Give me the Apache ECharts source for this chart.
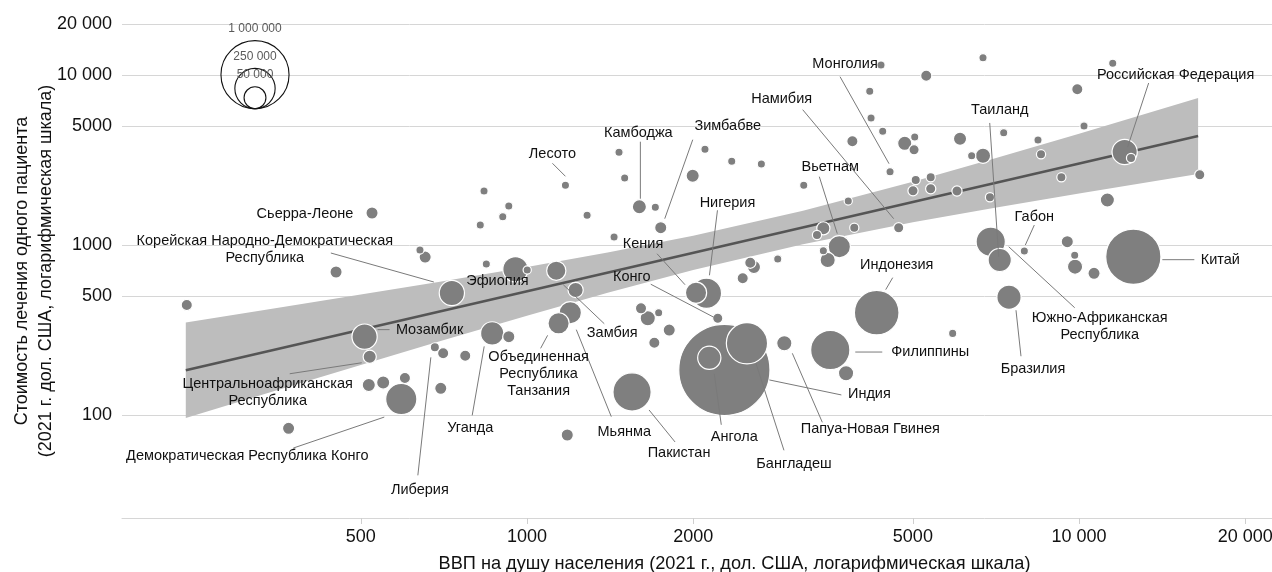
<!DOCTYPE html>
<html><head><meta charset="utf-8">
<script src="https://cdn.jsdelivr.net/npm/echarts@6/dist/echarts.min.js"></script>
<style>html,body{margin:0;padding:0;background:#fff}#c{width:1272px;height:572px}</style>
</head><body><div id="c"></div>
<script>
// ---------------- data ----------------
const countries = [
 '', 'Сьерра-Леоне', '', '', '', 'Корейская Народно-Демократическая Республика', '', '', '', '',
 '', 'Эфиопия', '', 'Замбия', '', 'Мьянма', 'Объединенная Республика Танзания', 'Мозамбик', 'Центральноафриканская Республика', 'Либерия',
 '', '', 'Уганда', '', '', '', '', '', 'Демократическая Республика Конго', '',
 '', 'Пакистан', 'Лесото', '', '', '', '', 'Камбоджа', '', 'Зимбабве',
 '', '', '', '', '', '', '', '', '', '',
 'Кения', 'Нигерия', 'Конго', '', '', '', '', '', 'Индия', 'Ангола',
 'Бангладеш', 'Папуа-Новая Гвинея', 'Филиппины', '', 'Индонезия', '', 'Вьетнам', '', '', '',
 'Намибия', '', '', 'Монголия', '', '', '', '', '', '',
 '', '', '', '', '', '', '', '', '', '',
 '', '', '', '', '', '', '', 'Российская Федерация', '', '',
 '', '', 'Южно-Африканская Республика', 'Таиланд', 'Габон', '', '', '', '', 'Китай',
 'Бразилия', '', ''
];
const gdpPerCapita = [
 242, 524, 451, 640, 654, 731, 836, 927, 904, 823,
 844, 953, 1001, 1130, 1225, 1198, 1141, 508, 519, 681,
 705, 773, 865, 927, 517, 549, 601, 698, 592, 370,
 1183, 1550, 1174, 1285, 1438, 1468, 1503, 1598, 1708, 1747,
 1996, 2101, 2349, 2658, 3172, 3819, 2846, 2538, 2577, 2459,
 2024, 2114, 2216, 1609, 1655, 1732, 1810, 1701, 2278, 2139,
 2503, 2925, 3543, 3784, 4300, 5903, 3679, 3442, 3352, 3916,
 4713, 3442, 3505, 4546, 4378, 5287, 4177, 4200, 4409, 3885,
 4833, 5039, 5025, 5060, 5386, 5003, 5386, 6699, 11508, 9927,
 10209, 7303, 6087, 8426, 6390, 6699, 8533, 12094, 12420, 9289,
 16544, 11253, 6918, 7183, 7959, 9521, 9820, 9834, 10644, 12540,
 7466, 6010, 6897
];
const costPerPatient = [
 444, 1544, 694, 935, 850, 522, 2080, 1697, 1468, 1312,
 773, 720, 713, 706, 544, 400, 346, 289, 220, 250,
 231, 223, 302, 289, 150, 155, 165, 143.5, 124, 83.4,
 76.2, 136.5, 2247, 1496, 1115, 3515, 2481, 1681, 1668, 1265,
 2559, 3660, 3112, 2999, 2247, 1816, 828, 787, 743, 637,
 524, 520, 371, 424, 371, 400, 316, 266, 184, 217,
 264, 264, 241, 176, 400, 302, 978, 1254, 1146, 1265,
 1265, 926, 817, 2702, 11473, 9924, 8033, 5594, 4673, 4080,
 3971, 4324, 3640, 2414, 2504, 2088, 2145, 12665, 11740, 8254,
 5020, 4583, 4226, 4151, 3356, 3356, 3420, 3528, 3253, 2504,
 2594, 1841, 1046, 817, 922, 1046, 870, 746, 682, 854,
 493, 2080, 1910
];
const patientsTreated = [
 6300, 8100, 8100, 2500, 8100, 64000, 2500, 2500, 2500, 2500,
 2500, 64000, 2500, 30000, 15400, 45000, 39400, 64000, 10200, 3500,
 6300, 6300, 50800, 8100, 10200, 10200, 6300, 8100, 115000, 8100,
 8100, 200000, 2500, 2500, 2500, 2500, 2500, 12600, 2500, 8100,
 10200, 2500, 2500, 2500, 2500, 2500, 2500, 6300, 10200, 6300,
 39400, 105000, 4800, 6300, 15400, 2500, 8100, 6300, 2090000, 50800,
 246000, 15400, 215000, 15400, 305000, 2500, 45000, 10200, 3500, 3500,
 4800, 2500, 15400, 2500, 2500, 6300, 2500, 2500, 2500, 6300,
 12600, 2500, 4800, 3500, 3500, 4800, 4800, 2500, 2500, 6300,
 2500, 2500, 10200, 2500, 2500, 15400, 3500, 64000, 3500, 3500,
 4800, 12600, 96000, 50800, 2500, 8100, 2500, 15400, 8100, 543000,
 57200, 4800, 3500
];
// regression line and its confidence band
const trendGdp  = [241, 16430];
const trendCost = [183, 4385];
const bandGdp   = [241, 350, 500, 700, 1000, 1400, 2000, 3162, 5000, 7000, 10000, 16430];
const bandUpper = [350, 424, 511, 611, 743, 904, 1134, 1592, 2360, 3220, 4526, 7341];
const bandLower = [96, 139, 197, 273, 384, 523, 713, 1012, 1361, 1654, 2013, 2619];
// ticks
const xTicks = [500, 1000, 2000, 5000, 10000, 20000];
const yTicks = [100, 500, 1000, 5000, 10000, 20000];
const sizeKey = [1000000, 250000, 50000];

// ---------------- styling / layout ----------------
const FONT = '"Liberation Sans", Arial, Helvetica, sans-serif';
const BORDER = 1.2;
function radius(v) { return 0.1819 * Math.pow(v, 0.3787); }
function fmt(v) {
  v = Math.round(v);
  return v >= 10000 ? String(v).replace(/\B(?=(\d{3})+(?!\d))/g, ' ') : String(v);
}
function fmtAll(v) { return String(Math.round(v)).replace(/\B(?=(\d{3})+(?!\d))/g, ' '); }
// label offsets (pixels relative to the bubble centre): t = text centre, l = leader line
const annot = {
 'Российская Федерация': {t:[51,-77], l:[24,-69,3,-5]},
 'Таиланд': {t:[0,-150], l:[-10,-137,-1,-3]},
 'Габон': {t:[10,-34], l:[10,-26,1,-6]},
 'Китай': {t:[87,3], l:[29,3,61,3]},
 'Южно-Африканская Республика': {t:[109,85], l:[18,5,84,66], text:'Южно-Африканская\nРеспублика'},
 'Бразилия': {t:[24,72], l:[7,13,12,59]},
 'Индонезия': {t:[20,-48], l:[16,-35,9,-23]},
 'Филиппины': {t:[100,2], l:[25,2,52,2]},
 'Индия': {t:[145,24], l:[45,10,117,25]},
 'Папуа-Новая Гвинея': {t:[86,86], l:[8,10,38,79]},
 'Бангладеш': {t:[47,121], l:[9,20,37,107]},
 'Ангола': {t:[25,79], l:[5,16,12,67]},
 'Пакистан': {t:[47,61], l:[17,18,43,50]},
 'Мьянма': {t:[54,119], l:[6,17,41,104]},
 'Объединенная Республика Танзания': {t:[-20,51], l:[-11,12,-18,25], text:'Объединенная\nРеспублика\nТанзания'},
 'Замбия': {t:[56,62], l:[7,14,48,53]},
 'Конго': {t:[-86,-41], l:[-67,-34,-4,-1]},
 'Кения': {t:[-53,-49], l:[-39,-39,-11,-8]},
 'Нигерия': {t:[21,-90], l:[11,-83,3,-18]},
 'Зимбабве': {t:[67,-102], l:[32,-88,4,-9]},
 'Камбоджа': {t:[-1,-74], l:[1,-65,1,-8]},
 'Лесото': {t:[-13,-31], l:[-13,-22,0,-9]},
 'Монголия': {t:[-45,-108], l:[-50,-95,-1,-8]},
 'Намибия': {t:[-117,-129], l:[-96,-118,-5,-9]},
 'Вьетнам': {t:[-9,-80], l:[-20,-70,-2,-13]},
 'Сьерра-Леоне': {t:[-67,1]},
 'Корейская Народно-Демократическая Республика': {t:[-187,-44], l:[-121,-40,-18,-11], text:'Корейская Народно-Демократическая\nРеспублика'},
 'Эфиопия': {t:[-18,12]},
 'Мозамбик': {t:[65,-7], l:[13,-7,25,-7]},
 'Центральноафриканская Республика': {t:[-102,36], l:[-80,17,-8,6], text:'Центральноафриканская\nРеспублика'},
 'Демократическая Республика Конго': {t:[-154,57], l:[-108,49,-17,18]},
 'Либерия': {t:[-15,143], l:[-4,10,-17,128]},
 'Уганда': {t:[-22,95], l:[-8,13,-20,82]}
};

// ---------------- build ----------------
const points = countries.map((n, i) => ({ name: n, value: [gdpPerCapita[i], costPerPatient[i], patientsTreated[i]] }))
  .sort((a, b) => b.value[2] - a.value[2]);
const labelled = [];
countries.forEach((n, i) => { if (n && annot[n]) labelled.push([gdpPerCapita[i], costPerPatient[i], i]); });

// size key (legend) graphic
const keyCx = 255, keyBottom = 108.7;
const keyGraphic = [];
sizeKey.forEach(v => {
  const r = radius(v);
  keyGraphic.push({ type: 'circle', shape: { cx: keyCx, cy: keyBottom - r, r: r },
    style: { fill: 'none', stroke: '#111', lineWidth: 1.1 }, z: 100 });
});
sizeKey.forEach(v => {
  const r = radius(v);
  keyGraphic.push({ type: 'text', x: keyCx, y: keyBottom - 2 * r - 12,
    style: { text: fmtAll(v), fill: '#5a5a5a', fontSize: 12, fontFamily: FONT, align: 'center', verticalAlign: 'middle' }, z: 101 });
});

const chart = echarts.init(document.getElementById('c'), null, { renderer: 'canvas' });
chart.setOption({
  animation: false,
  backgroundColor: '#ffffff',
  grid: { left: 122, right: 0, top: 24, bottom: 54, containLabel: false, outerBoundsMode: 'none' },
  xAxis: {
    type: 'log', logBase: 10, min: 184.7, max: 22360,
    axisLine: { show: true, lineStyle: { color: '#d6d6d6', width: 1 } },
    axisTick: { show: true, customValues: xTicks, length: 6, lineStyle: { color: '#cfcfcf' } },
    axisLabel: { customValues: xTicks, formatter: fmt, fontSize: 18, color: '#111', fontFamily: FONT, margin: 10 },
    splitLine: { show: false }, minorTick: { show: false }, minorSplitLine: { show: false },
    name: 'ВВП на душу населения (2021 г., дол. США, логарифмическая шкала)',
    nameLocation: 'middle', nameGap: 37, nameMoveOverlap: false,
    nameTextStyle: { fontSize: 18.2, color: '#111', fontFamily: FONT, padding: [0, 0, 0, 75] }
  },
  yAxis: {
    type: 'log', logBase: 10, min: 24.74, max: 20000,
    axisLine: { show: false },
    axisTick: { show: false, customValues: yTicks },
    axisLabel: { customValues: yTicks, formatter: fmt, fontSize: 18, color: '#111', fontFamily: FONT, margin: 10 },
    splitLine: { show: true, lineStyle: { color: '#d6d6d6', width: 1 } },
    minorTick: { show: false }, minorSplitLine: { show: false },
    name: 'Стоимость лечения одного пациента\n(2021 г. дол. США, логарифмическая шкала)',
    nameLocation: 'middle', nameGap: 64, nameRotate: 90, nameMoveOverlap: false,
    nameTextStyle: { fontSize: 18, lineHeight: 24, color: '#111', fontFamily: FONT }
  },
  graphic: keyGraphic,
  series: [
    {
      type: 'custom', name: 'band', silent: true, z: 1,
      data: [[1000, 1000]],
      renderItem: function (params, api) {
        const pts = [];
        for (let i = 0; i < bandGdp.length; i++) pts.push(api.coord([bandGdp[i], bandUpper[i]]));
        for (let i = bandGdp.length - 1; i >= 0; i--) pts.push(api.coord([bandGdp[i], bandLower[i]]));
        return { type: 'polygon', shape: { points: pts }, style: { fill: '#bdbdbd' } };
      }
    },
    {
      type: 'line', name: 'trend', silent: true, z: 2,
      data: trendGdp.map((g, i) => [g, trendCost[i]]),
      symbol: 'none', showSymbol: false,
      lineStyle: { color: '#555555', width: 2.6 }
    },
    {
      type: 'scatter', name: 'countries', z: 3, clip: false,
      data: points,
      symbolSize: function (val) { return 2 * radius(val[2]) + BORDER; },
      itemStyle: { color: '#7f7f7f', borderColor: '#ffffff', borderWidth: BORDER, opacity: 1 },
      emphasis: { disabled: true }
    },
    {
      type: 'custom', name: 'labels', silent: true, z: 5,
      data: labelled,
      encode: { x: 0, y: 1 },
      renderItem: function (params, api) {
        const i = api.value(2);
        const c = api.coord([api.value(0), api.value(1)]);
        const a = annot[countries[i]];
        const children = [];
        if (a.l) {
          children.push({ type: 'line', shape: { x1: c[0] + a.l[0], y1: c[1] + a.l[1], x2: c[0] + a.l[2], y2: c[1] + a.l[3] },
            style: { stroke: '#7a7a7a', lineWidth: 1 } });
        }
        children.push({ type: 'text', x: c[0] + a.t[0], y: c[1] + a.t[1],
          style: { text: a.text || countries[i], fill: '#111', fontSize: 14.5, fontFamily: FONT,
            align: 'center', verticalAlign: 'middle', lineHeight: 17 } });
        return { type: 'group', children: children };
      }
    }
  ]
});
</script>
</body></html>
